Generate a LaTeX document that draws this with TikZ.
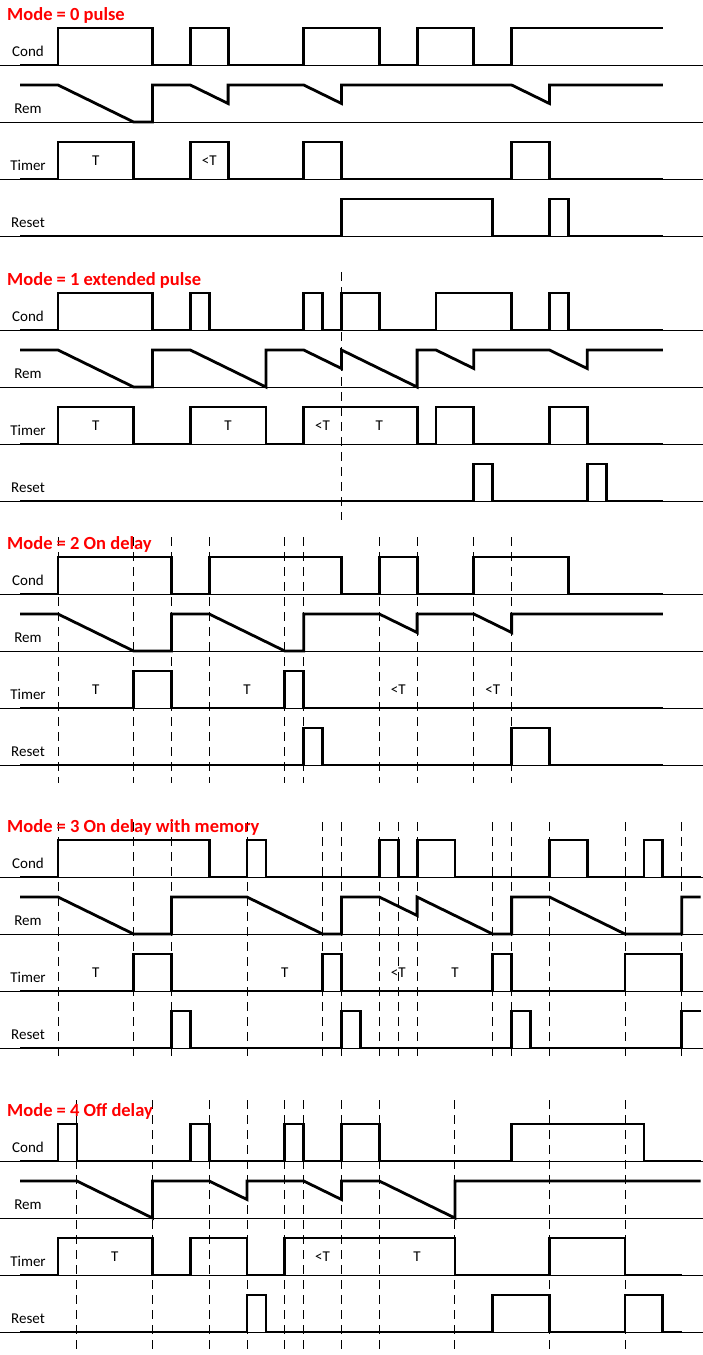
\documentclass[tikz,border=0pt]{standalone}
\usepackage{fontspec}
\setmainfont{Carlito}
\tikzset{
  sig/.style={line width=2.8pt, line join=miter, line cap=butt},
  baseln/.style={line width=1pt},
  vdash/.style={line width=0.9pt, dash pattern=on 9pt off 6pt},
  lbl/.style={anchor=base, font=\fontsize{15}{15}\selectfont, inner sep=0pt},
  ttl/.style={anchor=base west, font=\fontsize{18.5}{18.5}\selectfont\bfseries, text=red, inner sep=0pt},
}
\newcommand\sigpath[2]{\begin{scope}[shift={(58,#1)},x=18.9pt,y=37pt]\draw[sig] #2;\end{scope}}
\newcommand\vdashes[3]{\foreach \i in {#1} {\draw[vdash] ({58+18.9*\i},#2) -- ({58+18.9*\i},#3);}}
\newcommand\rowsetup[2]{%
  \foreach \k/\nm in {0/Cond,1/Rem,2/Timer,3/Reset} {
    \draw[baseln] (0,{#1+57*\k}) -- (703,{#1+57*\k});
    \node[lbl] (lab#2\k) at (28,{#1+57*\k-8.5}) {\nm};
  }}
\newcommand\tlab[4]{\node[lbl] (#4) at ({58+18.9*#1},{#2}) {#3};}
\begin{document}
\begin{tikzpicture}[x=1pt,y=-1pt]
\useasboundingbox (0,0) rectangle (703,1355);
\fill[white] (0,0) rectangle (703,1355);

% ---------------- Mode 0 ----------------
\node[ttl] (title0) at (7,20) {Mode = 0 pulse};
\rowsetup{65}{a}
\sigpath{65}{(-2,0)--(0,0)--(0,1)--(5,1)--(5,0)--(7,0)--(7,1)--(9,1)--(9,0)--(13,0)--(13,1)--(17,1)--(17,0)--(19,0)--(19,1)--(22,1)--(22,0)--(24,0)--(24,1)--(32,1)}
\sigpath{122}{(-2,1)--(0,1)--(4,0)--(5,0)--(5,1)--(7,1)--(9,.5)--(9,1)--(13,1)--(15,.5)--(15,1)--(24,1)--(26,.5)--(26,1)--(32,1)}
\sigpath{179}{(-2,0)--(0,0)--(0,1)--(4,1)--(4,0)--(7,0)--(7,1)--(9,1)--(9,0)--(13,0)--(13,1)--(15,1)--(15,0)--(24,0)--(24,1)--(26,1)--(26,0)--(32,0)}
\sigpath{236}{(-2,0)--(15,0)--(15,1)--(23,1)--(23,0)--(26,0)--(26,1)--(27,1)--(27,0)--(32,0)}
\tlab{2}{165}{T}{ta1}
\tlab{8}{165}{<T}{ta2}

% ---------------- Mode 1 ----------------
\vdashes{15}{272}{520}
\node[ttl] (title1) at (7,285) {Mode = 1 extended pulse};
\rowsetup{330}{b}
\sigpath{330}{(-2,0)--(0,0)--(0,1)--(5,1)--(5,0)--(7,0)--(7,1)--(8,1)--(8,0)--(13,0)--(13,1)--(14,1)--(14,0)--(15,0)--(15,1)--(17,1)--(17,0)--(20,0)--(20,1)--(24,1)--(24,0)--(26,0)--(26,1)--(27,1)--(27,0)--(32,0)}
\sigpath{387}{(-2,1)--(0,1)--(4,0)--(5,0)--(5,1)--(7,1)--(11,0)--(11,1)--(13,1)--(15,.5)--(15,1)--(19,0)--(19,1)--(20,1)--(22,.5)--(22,1)--(26,1)--(28,.5)--(28,1)--(32,1)}
\sigpath{444}{(-2,0)--(0,0)--(0,1)--(4,1)--(4,0)--(7,0)--(7,1)--(11,1)--(11,0)--(13,0)--(13,1)--(19,1)--(19,0)--(20,0)--(20,1)--(22,1)--(22,0)--(26,0)--(26,1)--(28,1)--(28,0)--(32,0)}
\sigpath{501}{(-2,0)--(22,0)--(22,1)--(23,1)--(23,0)--(28,0)--(28,1)--(29,1)--(29,0)--(32,0)}
\tlab{2}{430}{T}{tb1}
\tlab{9}{430}{T}{tb2}
\tlab{14}{430}{<T}{tb3}
\tlab{17}{430}{T}{tb4}

% ---------------- Mode 2 ----------------
\vdashes{0,4,6,8,12,13,17,19,22,24}{537}{783}
\node[ttl] (title2) at (7,549) {Mode = 2 On delay};
\rowsetup{594}{c}
\sigpath{594}{(-2,0)--(0,0)--(0,1)--(6,1)--(6,0)--(8,0)--(8,1)--(15,1)--(15,0)--(17,0)--(17,1)--(19,1)--(19,0)--(22,0)--(22,1)--(27,1)--(27,0)--(32,0)}
\sigpath{651}{(-2,1)--(0,1)--(4,0)--(6,0)--(6,1)--(8,1)--(12,0)--(13,0)--(13,1)--(17,1)--(19,.5)--(19,1)--(22,1)--(24,.5)--(24,1)--(32,1)}
\sigpath{708}{(-2,0)--(4,0)--(4,1)--(6,1)--(6,0)--(12,0)--(12,1)--(13,1)--(13,0)--(32,0)}
\sigpath{765}{(-2,0)--(13,0)--(13,1)--(14,1)--(14,0)--(24,0)--(24,1)--(26,1)--(26,0)--(32,0)}
\tlab{2}{694}{T}{tc1}
\tlab{10}{694}{T}{tc2}
\tlab{18}{694}{<T}{tc3}
\tlab{23}{694}{<T}{tc4}

% ---------------- Mode 3 ----------------
\vdashes{0,4,6,10,14,15,17,18,19,23,24,26,30,33}{822}{1058}
\node[ttl] (title3) at (7,832) {Mode = 3 On delay with memory};
\rowsetup{877}{d}
\sigpath{877}{(-2,0)--(0,0)--(0,1)--(8,1)--(8,0)--(10,0)--(10,1)--(11,1)--(11,0)--(17,0)--(17,1)--(18,1)--(18,0)--(19,0)--(19,1)--(21,1)--(21,0)--(26,0)--(26,1)--(28,1)--(28,0)--(31,0)--(31,1)--(32,1)--(32,0)--(34,0)}
\sigpath{934}{(-2,1)--(0,1)--(4,0)--(6,0)--(6,1)--(10,1)--(14,0)--(15,0)--(15,1)--(17,1)--(19,.5)--(19,1)--(23,0)--(24,0)--(24,1)--(26,1)--(30,0)--(33,0)--(33,1)--(34,1)}
\sigpath{991}{(-2,0)--(4,0)--(4,1)--(6,1)--(6,0)--(14,0)--(14,1)--(15,1)--(15,0)--(23,0)--(23,1)--(24,1)--(24,0)--(30,0)--(30,1)--(33,1)--(33,0)}
\sigpath{1048}{(-2,0)--(6,0)--(6,1)--(7,1)--(7,0)--(15,0)--(15,1)--(16,1)--(16,0)--(24,0)--(24,1)--(25,1)--(25,0)--(33,0)--(33,1)--(34,1)}
\tlab{2}{977}{T}{td1}
\tlab{12}{977}{T}{td2}
\tlab{18}{977}{<T}{td3}
\tlab{21}{977}{T}{td4}

% ---------------- Mode 4 ----------------
\vdashes{1,5,8,10,12,13,15,17,21,26,30}{1100}{1353}
\node[ttl] (title4) at (7,1116) {Mode = 4 Off delay};
\rowsetup{1161}{e}
\sigpath{1161}{(-2,0)--(0,0)--(0,1)--(1,1)--(1,0)--(7,0)--(7,1)--(8,1)--(8,0)--(12,0)--(12,1)--(13,1)--(13,0)--(15,0)--(15,1)--(17,1)--(17,0)--(24,0)--(24,1)--(31,1)--(31,0)--(34,0)}
\sigpath{1218}{(-2,1)--(1,1)--(5,0)--(5,1)--(8,1)--(10,.5)--(10,1)--(13,1)--(15,.5)--(15,1)--(17,1)--(21,0)--(21,1)--(34,1)}
\sigpath{1275}{(-2,0)--(0,0)--(0,1)--(5,1)--(5,0)--(7,0)--(7,1)--(10,1)--(10,0)--(12,0)--(12,1)--(21,1)--(21,0)--(26,0)--(26,1)--(30,1)--(30,0)--(33,0)}
\sigpath{1332}{(-2,0)--(10,0)--(10,1)--(11,1)--(11,0)--(23,0)--(23,1)--(26,1)--(26,0)--(30,0)--(30,1)--(32,1)--(32,0)--(33,0)}
\tlab{3}{1261}{T}{te1}
\tlab{14}{1261}{<T}{te2}
\tlab{19}{1261}{T}{te3}
\end{tikzpicture}
\end{document}
